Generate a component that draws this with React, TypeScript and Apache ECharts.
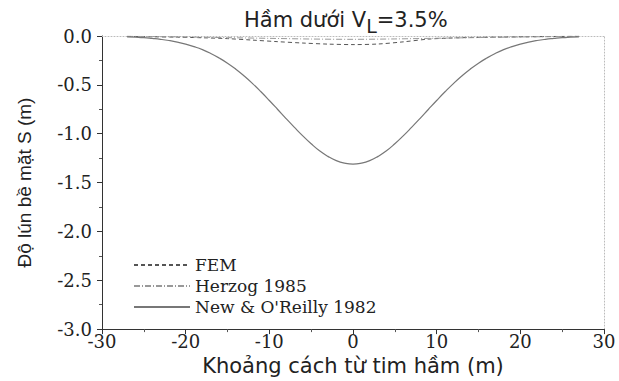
import React, { useEffect, useRef } from "react";
import * as echarts from "echarts";

// Distance from tunnel axis (m)
const distNew = [
  -27, -26, -25, -24, -23, -22, -21, -20, -19, -18, -17, -16, -15, -14, -13, -12, -11, -10,
  -9, -8, -7, -6, -5, -4, -3, -2, -1, 0, 1, 2, 3, 4, 5, 6, 7, 8, 9, 10, 11, 12, 13, 14, 15,
  16, 17, 18, 19, 20, 21, 22, 23, 24, 25, 26, 27,
];
// New & O'Reilly 1982 settlement (m)
const settleNew = [
  -0.008, -0.012, -0.017, -0.025, -0.034, -0.046, -0.062, -0.083, -0.109, -0.14, -0.179, -0.225,
  -0.278, -0.34, -0.41, -0.487, -0.571, -0.66, -0.752, -0.845, -0.935, -1.022, -1.103, -1.175,
  -1.232, -1.276, -1.302, -1.312, -1.302, -1.276, -1.232, -1.175, -1.103, -1.022, -0.935,
  -0.845, -0.752, -0.66, -0.571, -0.487, -0.41, -0.34, -0.278, -0.225, -0.179, -0.14, -0.109,
  -0.083, -0.062, -0.046, -0.034, -0.025, -0.017, -0.012, -0.008,
];

const distFEM = [-27, -24, -21, -18, -15, -12, -9, -6, -3, 0, 3, 6, 9, 12, 15, 18, 21, 24, 27];
const settleFEM = [
  -0.004, -0.008, -0.012, -0.018, -0.027, -0.042, -0.058, -0.072, -0.083, -0.088, -0.082,
  -0.06, -0.032, -0.02, -0.014, -0.011, -0.008, -0.005, -0.003,
];

const distHerzog = [-27, -24, -20, -15, -10, -5, 0, 5, 10, 15, 20, 24, 27];
const settleHerzog = [
  -0.003, -0.006, -0.01, -0.017, -0.024, -0.031, -0.034, -0.03, -0.023, -0.016, -0.01, -0.006,
  -0.003,
];

const seriesNames = ["FEM", "Herzog 1985", "New & O'Reilly 1982"];
const titleMain = "Hầm dưới V";
const titleSub = "L";
const titleTail = "=3.5%";
const xName = "Khoảng cách từ tim hầm (m)";
const yName = "Độ lún bề mặt S (m)";

const pairs = (xs: number[], ys: number[]) => xs.map((x, i) => [x, ys[i]]);

export default function App() {
  const ref = useRef<HTMLDivElement>(null);
  useEffect(() => {
    if (!ref.current) return;
    const chart = echarts.init(ref.current, undefined, { renderer: "svg" });
    const serif = "DejaVu Serif";
    const sans = "Liberation Sans";
    chart.setOption({
      animation: false,
      backgroundColor: "#ffffff",
      title: {
        text: `{a|${titleMain}}{b|${titleSub}}{a|${titleTail}}`,
        left: 239,
        top: 4,
        textStyle: {
          rich: {
            a: {
              fontFamily: "DejaVu Sans",
              fontSize: 21,
              fontWeight: "normal",
              color: "#222",
              lineHeight: 24,
              verticalAlign: "top",
            },
            b: {
              fontFamily: "DejaVu Sans",
              fontSize: 19,
              fontWeight: "normal",
              color: "#222",
              lineHeight: 24,
              verticalAlign: "top",
              padding: [7, 0, 0, 0],
            },
          },
        },
      },
      legend: {
        orient: "vertical",
        left: 128,
        top: 251,
        itemWidth: 56,
        itemHeight: 12,
        itemGap: 3,
        data: seriesNames,
        itemStyle: { opacity: 0 },
        textStyle: { fontFamily: serif, fontSize: 17, color: "#222", lineHeight: 18 },
      },
      grid: { left: 102, right: 15, top: 36, bottom: 48, show: false },
      xAxis: [
        {
          type: "value",
          min: -30,
          max: 30,
          interval: 10,
          position: "bottom",
          name: xName,
          nameLocation: "middle",
          nameGap: 16,
          nameTextStyle: { fontFamily: "DejaVu Sans", fontSize: 21, color: "#222" },
          axisLine: { onZero: false, lineStyle: { color: "#333", width: 1 } },
          axisTick: { show: true, length: 5, lineStyle: { color: "#333" } },
          minorTick: { show: true, splitNumber: 2, length: 3, lineStyle: { color: "#555" } },
          axisLabel: { fontFamily: serif, fontSize: 18, color: "#222", margin: 3 },
          splitLine: { show: false },
        },
        {
          type: "value",
          min: -30,
          max: 30,
          interval: 10,
          position: "top",
          axisLine: { onZero: false, lineStyle: { color: "#bbb", width: 1, type: [1, 2] } },
          axisTick: { show: false },
          axisLabel: { show: false },
          splitLine: { show: false },
        },
      ],
      yAxis: [
        {
          type: "value",
          min: -3,
          max: 0,
          interval: 0.5,
          position: "left",
          name: yName,
          nameLocation: "middle",
          nameGap: 68,
          nameRotate: 90,
          nameTextStyle: { fontFamily: sans, fontSize: 19, color: "#222" },
          axisLine: { onZero: false, lineStyle: { color: "#333", width: 1 } },
          axisTick: { show: true, length: 5, lineStyle: { color: "#333" } },
          minorTick: { show: true, splitNumber: 2, length: 3, lineStyle: { color: "#555" } },
          axisLabel: {
            fontFamily: serif,
            fontSize: 18,
            color: "#222",
            margin: 10,
            formatter: (v: number) => v.toFixed(1),
          },
          splitLine: { show: false },
        },
        {
          type: "value",
          min: -3,
          max: 0,
          interval: 0.5,
          position: "right",
          axisLine: { onZero: false, lineStyle: { color: "#bbb", width: 1, type: [1, 2] } },
          axisTick: { show: false },
          axisLabel: { show: false },
          splitLine: { show: false },
        },
      ],
      series: [
        {
          name: seriesNames[0],
          type: "line",
          symbol: "none",
          data: pairs(distFEM, settleFEM),
          smooth: 0.3,
          lineStyle: { color: "#555", width: 1, type: [4, 3] },
          itemStyle: { color: "#555" },
        },
        {
          name: seriesNames[1],
          type: "line",
          symbol: "none",
          data: pairs(distHerzog, settleHerzog),
          smooth: 0.3,
          lineStyle: { color: "#999", width: 1, type: [6, 2, 1, 2] },
          itemStyle: { color: "#999" },
        },
        {
          name: seriesNames[2],
          type: "line",
          symbol: "none",
          data: pairs(distNew, settleNew),
          smooth: true,
          lineStyle: { color: "#777", width: 1.2, type: "solid" },
          itemStyle: { color: "#777" },
        },
      ],
    });
    return () => chart.dispose();
  }, []);
  return (
    <div
      ref={ref}
      style={{ position: "fixed", left: 0, top: 0, width: 619, height: 381, background: "#fff" }}
    />
  );
}
